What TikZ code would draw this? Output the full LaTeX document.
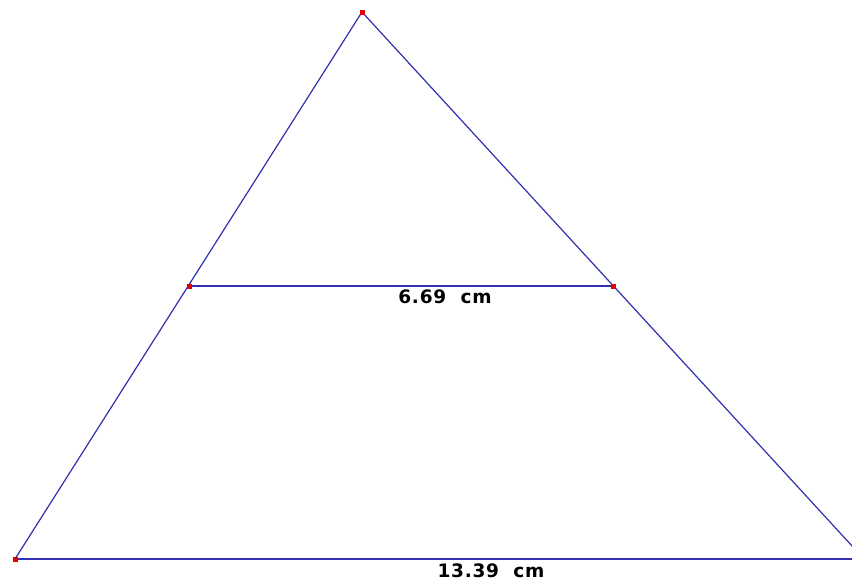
\documentclass[tikz,border=0pt]{standalone}
\usepackage{fontspec}
\usepackage{xcolor}
\newfontfamily\labelfont[LetterSpace=4]{DejaVu Sans}
\definecolor{segblue}{RGB}{48,48,176}
\definecolor{ptred}{RGB}{228,0,0}

\begin{document}
\begin{tikzpicture}[x=1pt, y=-1pt,
    seg/.style={segblue, line width=1.2pt},
    base/.style={segblue, line width=1.8pt},
    dot/.style={fill=ptred, minimum size=5pt, inner sep=0pt},
    lbl/.style={font=\labelfont\bfseries\fontsize{18.5}{20}\selectfont, inner sep=0pt}]
    \useasboundingbox (0,0) rectangle (852,587);
    \clip (0,0) rectangle (852,587);

    % Triangle vertices (right one lies past the edge)
    \coordinate (A) at (362,12);
    \coordinate (B) at (15,559);
    \coordinate (C) at (864,559);
    \coordinate (M) at (189,286);
    \coordinate (N) at (613,286);

    % Sides and the midline
    \draw[seg] (A) -- (B);
    \draw[seg] (A) -- (C);
    \draw[base] (B) -- (C);
    \draw[base] (M) -- (N);

    % Points
    \node[dot] (pA) at (A) {};
    \node[dot] (pB) at (B) {};
    \node[dot] (pM) at (M) {};
    \node[dot] (pN) at (N) {};

    % Lengths
    \node[lbl] (lmid) at (445,297) {6.69\ \ cm};
    \node[lbl] (lbase) at (491,571) {13.39\ \ cm};
\end{tikzpicture}
\end{document}
